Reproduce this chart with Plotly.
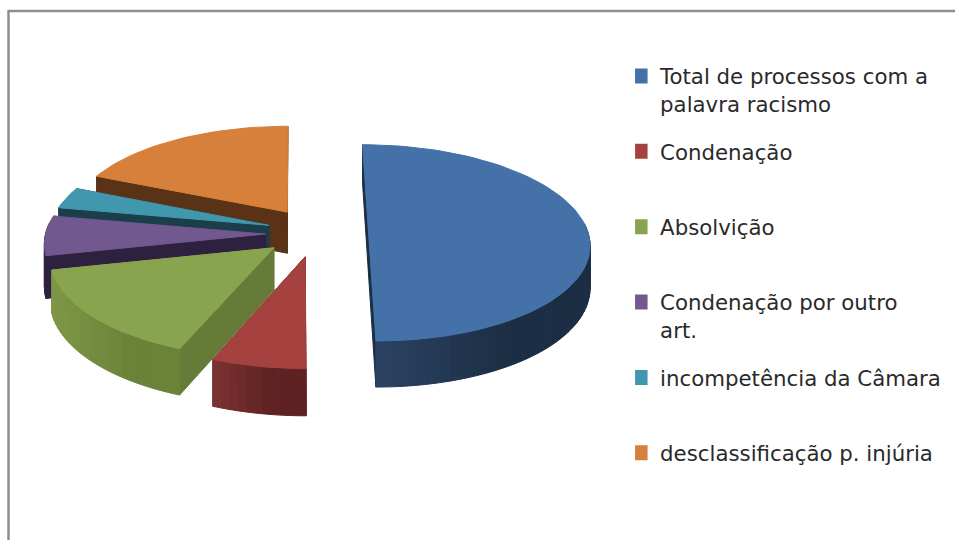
import math
import plotly.graph_objects as go

# ---- data ----
labels = ["Total de processos com a<br>palavra racismo", "Condenação<br> ", "Absolvição<br> ",
          "Condenação por outro<br>art.", "incompetência da Câmara<br> ", "desclassificação p. injúria<br> "]
values = [50, 6.2, 15.3, 6.5, 3.5, 18.5]

# ---- explosion of each slice on the pie's ground plane ----
offset_u = [0.335, 0.045, -0.095, -0.135, -0.12, -0.036]
offset_v = [-0.01, 0.22, 0.13, -0.01, -0.10, -0.24]

# ---- styles ----
top_colors = ["#4472A8", "#A54240", "#89A44E", "#71588F", "#4097AE", "#D6803B"]
wall_left = ["#2C4262", "#7C3232", "#7E9747", "#2E2140", "#1A3E4A", "#5A3316"]
wall_right = ["#1B2E44", "#5E2222", "#6B8239", "#2E2140", "#1A3E4A", "#5A3316"]
cut_colors = ["#1B2E44", "#5E2222", "#667B38", "#2E2140", "#1A3E4A", "#5A3316"]
draw_order = [5, 4, 3, 2, 1, 0]

CX, CY, A, B, DEPTH, PERSP = 295, 235, 220, 97.5, 42, 0.09


def project(u, v, z=0.0):
    s = 1 / (1 - PERSP * v)
    return CX + s * A * u, CY + s * B * v + s * DEPTH * z


def mix(c1, c2, t):
    a = [int(c1[i:i + 2], 16) for i in (1, 3, 5)]
    b = [int(c2[i:i + 2], 16) for i in (1, 3, 5)]
    return "rgb(%d,%d,%d)" % tuple(round(p + (q - p) * t) for p, q in zip(a, b))


fig = go.Figure()


def poly(pts, color):
    xs = [p[0] for p in pts] + [pts[0][0]]
    ys = [p[1] for p in pts] + [pts[0][1]]
    fig.add_trace(go.Scatter(x=xs, y=ys, mode="lines", fill="toself", fillcolor=color,
                             line=dict(color=color, width=1), hoverinfo="skip", showlegend=False))


total = sum(values)
edges = [0]
for val in values:
    edges.append(edges[-1] + val / total * 2 * math.pi)

for i in draw_order:
    t0, t1 = edges[i], edges[i + 1]
    n = max(4, int((t1 - t0) / math.radians(2)))
    arc = [(offset_u[i] + math.sin(t0 + (t1 - t0) * k / n),
            offset_v[i] - math.cos(t0 + (t1 - t0) * k / n)) for k in range(n + 1)]
    apex = (offset_u[i], offset_v[i])
    # radial cut faces
    for end in (arc[0], arc[-1]):
        poly([project(*apex), project(*end), project(*end, 1), project(*apex, 1)], cut_colors[i])
    # outer wall with a left-to-right gradient
    front = [project(*p) for p in arc if p[1] - offset_v[i] > -0.05]
    xmin = min(p[0] for p in front) if front else 0
    span = (max(p[0] for p in front) - xmin) if front else 1
    for p, q in zip(arc[:-1], arc[1:]):
        if (p[1] + q[1]) / 2 - offset_v[i] < -0.1:
            continue
        xm = (project(*p)[0] + project(*q)[0]) / 2
        t = min(1, max(0, (xm - xmin) / max(span, 1) * 1.6))
        poly([project(*p), project(*q), project(*q, 1), project(*p, 1)], mix(wall_left[i], wall_right[i], t))
    # top face
    poly([project(*apex)] + [project(*p) for p in arc], top_colors[i])

# legend entries, in the order of the data
for name, color in zip(labels, top_colors):
    fig.add_trace(go.Scatter(x=[None], y=[None], mode="markers", name=name, legendgroup=name,
                             marker=dict(symbol="square", size=15, color=color), hoverinfo="skip"))

fig.update_layout(
    width=955, height=540, margin=dict(l=0, r=0, t=0, b=0),
    paper_bgcolor="white", plot_bgcolor="white",
    xaxis=dict(range=[0, 955], visible=False, fixedrange=True),
    yaxis=dict(range=[540, 0], visible=False, fixedrange=True),
    font=dict(family="DejaVu Sans", size=21.3, color="#2a2a2a"),
    legend=dict(x=0.665, y=0.897, xanchor="left", yanchor="top", valign="top", itemwidth=30, indentation=-15,
                tracegroupgap=17, bgcolor="rgba(0,0,0,0)", itemclick=False, itemdoubleclick=False),
    shapes=[
        dict(type="line", xref="x", yref="y", x0=8.5, x1=8.5, y0=11, y1=540, line=dict(color="#8E8E8E", width=2.5)),
        dict(type="line", xref="x", yref="y", x0=7.5, x1=955, y0=11, y1=11, line=dict(color="#8E8E8E", width=2.5)),
    ],
)
fig.write_html("out.html", post_script="document.body.style.margin='0';", config=dict(displayModeBar=False))
